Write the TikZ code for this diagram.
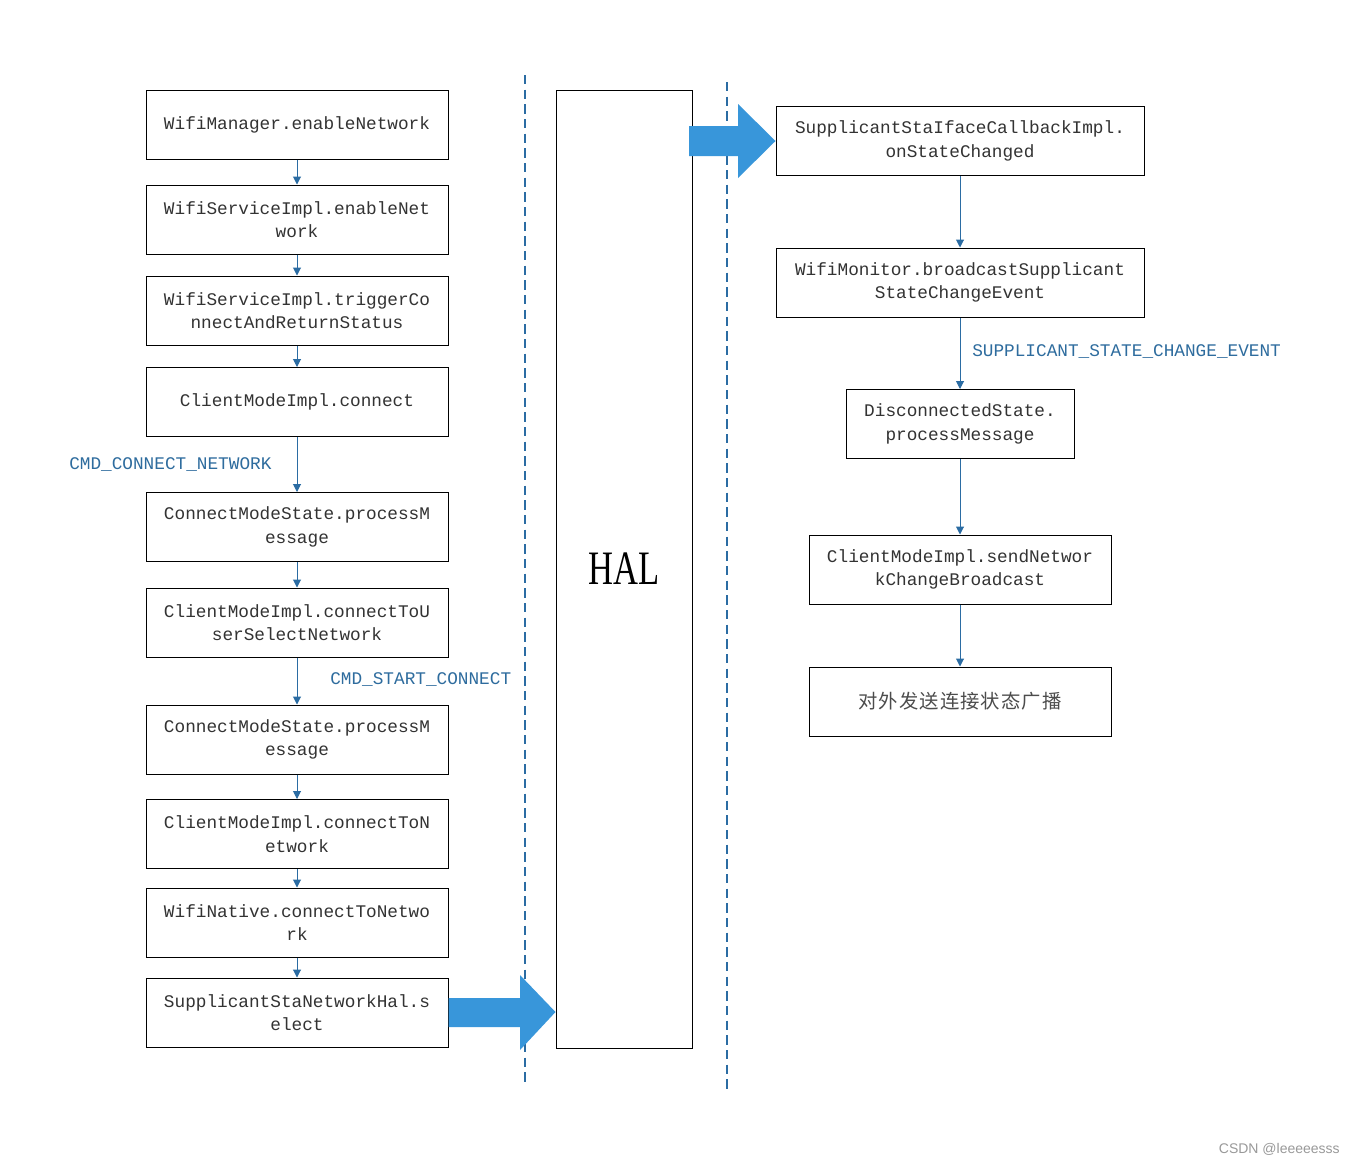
\documentclass[tikz,border=0pt]{standalone}
\usepackage{fontspec}
\setmainfont{Liberation Serif}
\newfontfamily\boxmono{Liberation Mono}
\newfontfamily\cjk{Noto Sans CJK SC}
\newfontfamily\wmfont{Liberation Sans}
\usetikzlibrary{arrows.meta}
\definecolor{edgeblue}{HTML}{2B6CA3}
\definecolor{labblue}{HTML}{2E6C9E}
\definecolor{bigblue}{HTML}{3896DA}
\definecolor{txtgray}{HTML}{333333}
\newcommand{\ck}{\kern0.8pt}
\tikzset{
  fbox/.style={draw=black, line width=0.75pt, fill=white, align=center, inner sep=0pt,
    minimum height=51.75pt, text=txtgray, font=\boxmono\fontsize{13.3}{17.5}\selectfont},
  lbox/.style={fbox, minimum width=226.5pt},
  wbox/.style={fbox, minimum width=276pt},
  sbox/.style={fbox, minimum width=171pt},
  flow/.style={draw=edgeblue, line width=0.75pt, -{Triangle[width=6pt,length=6pt]}},
  msg/.style={text=labblue, inner sep=0pt, font=\boxmono\fontsize{13.3}{17.5}\selectfont},
  sep/.style={draw=edgeblue, line width=0.9pt, dash pattern=on 7pt off 4pt},
  bigarrow/.style={fill=bigblue, draw=none},
}
\begin{document}
\begin{tikzpicture}[x=0.75pt,y=-0.75pt]
\useasboundingbox[fill=white] (0,0) rectangle (1355,1164);

% separators
\coordinate (s1a) at (525,75);  \coordinate (s1b) at (525,1085);
\coordinate (s2a) at (727,82);  \coordinate (s2b) at (727,1092);
\draw[sep] (s1a) -- (s1b);
\draw[sep] (s2a) -- (s2b);

% HAL
\node[draw=black, line width=0.75pt, fill=white, minimum width=102pt, minimum height=718.5pt, inner sep=0pt] (hal) at (624,569) {};
\node at (hal.center) {\scalebox{0.72}[1]{\fontsize{36}{40}\selectfont HAL}};

% left column
\node[lbox] (b1)  at (297,124.5) {WifiManager.enableNetwork};
\node[lbox] (b2)  at (297,219.5) {WifiServiceImpl.enableNet\\work};
\node[lbox] (b3)  at (297,310.5) {WifiServiceImpl.triggerCo\\nnectAndReturnStatus};
\node[lbox] (b4)  at (297,402)   {ClientModeImpl.connect};
\node[lbox] (b5)  at (297,527)   {ConnectModeState.processM\\essage};
\node[lbox] (b6)  at (297,622.5) {ClientModeImpl.connectToU\\serSelectNetwork};
\node[lbox] (b7)  at (297,739.5) {ConnectModeState.processM\\essage};
\node[lbox] (b8)  at (297,834)   {ClientModeImpl.connectToN\\etwork};
\node[lbox] (b9)  at (297,922.5) {WifiNative.connectToNetwo\\rk};
\node[lbox] (b10) at (297,1012.5){SupplicantStaNetworkHal.s\\elect};

\foreach \a/\b in {b1/b2,b2/b3,b3/b4,b4/b5,b5/b6,b6/b7,b7/b8,b8/b9,b9/b10}
  \draw[flow] (\a) -- (\b);

\node[msg, anchor=west] (m1) at (69,465) {CMD\_CONNECT\_NETWORK};
\node[msg, anchor=west] (m2) at (330,680) {CMD\_START\_CONNECT};

% right column
\node[wbox] (r1) at (960,141)   {SupplicantStaIfaceCallbackImpl.\\onStateChanged};
\node[wbox] (r2) at (960,282.5) {WifiMonitor.broadcastSupplicant\\StateChangeEvent};
\node[sbox] (r3) at (960,424)   {DisconnectedState.\\processMessage};
\node[lbox] (r4) at (960,569.5) {ClientModeImpl.sendNetwor\\kChangeBroadcast};
\node[lbox, text=black!70] (r5) at (960,701.5) {\cjk\fontsize{14.5}{17}\selectfont 对\ck 外\ck 发\ck 送\ck 连\ck 接\ck 状\ck 态\ck 广\ck 播};

\foreach \a/\b in {r1/r2,r2/r3,r3/r4,r4/r5}
  \draw[flow] (\a) -- (\b);

\node[msg, anchor=west] (m3) at (972,352) {SUPPLICANT\_STATE\_CHANGE\_EVENT};

% big arrows
\fill[bigarrow] (b10.east |- 0,998) -- (520,998) -- (520,975) -- (hal.west |- 0,1012) -- (520,1050) -- (520,1027) -- (b10.east |- 0,1027) -- cycle;
\fill[bigarrow] (689,126) -- (738,126) -- (738,104) -- (r1.west) -- (738,178) -- (738,156) -- (689,156) -- cycle;

% watermark
\node[anchor=east, text=gray!80, font=\wmfont\fontsize{10.5}{12}\selectfont, inner sep=0pt] (wm) at (1340,1149) {CSDN @leeeeesss};
\end{tikzpicture}
\end{document}
